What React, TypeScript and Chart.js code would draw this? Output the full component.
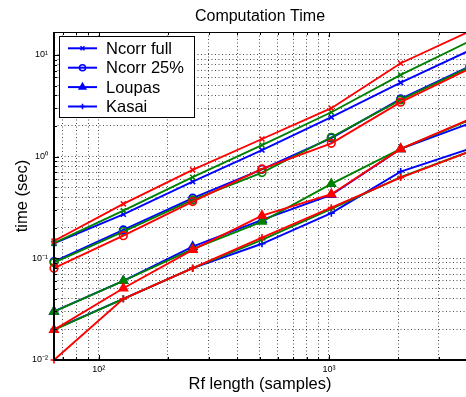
import React, { useEffect, useRef } from "react";
import { Chart, registerables } from "chart.js";
import { drawPoint } from "chart.js/helpers";

Chart.register(...registerables);

// ---- data ----
const rfLength = [64, 128, 256, 512, 1024, 2048, 4096];

const ncorrFullBlue = [0.14, 0.271, 0.568, 1.16, 2.44, 5.34, 11.1];
const ncorrFullGreen = [0.141, 0.294, 0.627, 1.3, 2.73, 6.35, 13.7];
const ncorrFullRed = [0.148, 0.343, 0.74, 1.49, 2.99, 8.28, 17.1];

const ncorr25Blue = [0.093, 0.19, 0.39, 0.75, 1.52, 3.69, 7.76];
const ncorr25Green = [0.0908, 0.183, 0.375, 0.697, 1.55, 3.61, 7.6];
const ncorr25Red = [0.08, 0.167, 0.361, 0.757, 1.35, 3.43, 7.35];

const loupasBlue = [0.03, 0.06, 0.13, 0.239, 0.42, 1.19, 2.13];
const loupasGreen = [0.0299, 0.06, 0.123, 0.23, 0.539, 1.19, 2.3];
const loupasRed = [0.0198, 0.0508, 0.121, 0.263, 0.427, 1.19, 2.34];

const kasaiBlue = [0.02, 0.04, 0.08, 0.139, 0.278, 0.712, 1.2];
const kasaiGreen = [0.0198, 0.04, 0.08, 0.152, 0.306, 0.63, 1.13];
const kasaiRed = [0.01, 0.04, 0.08, 0.16, 0.315, 0.622, 1.12];

const legendLabels = ["Ncorr full", "Ncorr 25%", "Loupas", "Kasai"];

const xTickValues = [70, 80, 90, 100, 200, 300, 400, 500, 600, 700, 800, 900, 1000, 2000, 3000];
const xMajorTicks = [100, 1000];
const xMajorLabels = ["10\u00B2", "10\u00B3"];

const yTickValues = [
  0.01, 0.02, 0.03, 0.04, 0.05, 0.06, 0.07, 0.08, 0.09,
  0.1, 0.2, 0.3, 0.4, 0.5, 0.6, 0.7, 0.8, 0.9,
  1, 2, 3, 4, 5, 6, 7, 8, 9, 10,
];
const yMajorTicks = [0.01, 0.1, 1, 10];
const yMajorLabels = ["10\u207B\u00B2", "10\u207B\u00B9", "10\u2070", "10\u00B9"];

const titleText = "Computation Time";
const xTitle = "Rf length (samples)";
const yTitle = "time (sec)";

// ---- styles ----
const BLUE = "#0000ff";
const GREEN = "#008000";
const RED = "#ff0000";
const FONT = "'Liberation Sans', Arial, Helvetica, sans-serif";

const markerStyles = [
  { pointStyle: "crossRot", radius: 3.5, filled: false },
  { pointStyle: "circle", radius: 3.8, filled: false },
  { pointStyle: "triangle", radius: 4.8, filled: true },
  { pointStyle: "cross", radius: 3.5, filled: false },
];

const findIdx = (arr: number[], v: number) =>
  arr.findIndex((a) => Math.abs(a - v) / a < 1e-6);

function makeDataset(label: string, values: number[], color: string, m: number) {
  const ms = markerStyles[m];
  return {
    label,
    data: rfLength.map((x, i) => ({ x, y: values[i] })),
    borderColor: color,
    backgroundColor: color,
    pointBorderColor: color,
    pointBackgroundColor: ms.filled ? color : "rgba(0,0,0,0)",
    pointStyle: ms.pointStyle,
    pointRadius: ms.radius,
    pointBorderWidth: 1.6,
    borderWidth: 1.9,
    tension: 0,
    clip: false as any,
  };
}

const framePlugin = {
  id: "frame",
  afterDraw(chart: any) {
    const { ctx, chartArea, scales } = chart;
    const { left, right, top, bottom } = chartArea;
    ctx.save();
    // inward tick marks
    ctx.strokeStyle = "#000";
    ctx.lineWidth = 1;
    ctx.beginPath();
    for (const v of yTickValues) {
      const y = Math.round(scales.y.getPixelForValue(v)) + 0.5;
      const len = findIdx(yMajorTicks, v) >= 0 ? 5 : 3;
      ctx.moveTo(left, y);
      ctx.lineTo(left + len, y);
    }
    for (const v of xTickValues) {
      const x = Math.round(scales.x.getPixelForValue(v)) + 0.5;
      const len = findIdx(xMajorTicks, v) >= 0 ? 5 : 3;
      ctx.moveTo(x, bottom);
      ctx.lineTo(x, bottom - len);
      ctx.moveTo(x, top);
      ctx.lineTo(x, top + len);
    }
    ctx.stroke();
    // box
    ctx.lineWidth = 1;
    ctx.beginPath();
    ctx.moveTo(left, top + 0.5);
    ctx.lineTo(right, top + 0.5);
    ctx.stroke();
    ctx.lineWidth = 2;
    ctx.beginPath();
    ctx.moveTo(left, top);
    ctx.lineTo(left, bottom);
    ctx.lineTo(right, bottom);
    ctx.stroke();

    // legend
    const lx = 59.5, ly = 36.5, lw = 135, lh = 81;
    ctx.fillStyle = "#fff";
    ctx.fillRect(lx, ly, lw, lh);
    ctx.strokeStyle = "#000";
    ctx.lineWidth = 1;
    ctx.strokeRect(lx, ly, lw, lh);
    ctx.font = `16.5px ${FONT}`;
    ctx.textBaseline = "middle";
    ctx.textAlign = "left";
    legendLabels.forEach((lab, i) => {
      const y = 48.3 + i * 19.4;
      ctx.strokeStyle = BLUE;
      ctx.lineWidth = 2;
      ctx.beginPath();
      ctx.moveTo(68, y);
      ctx.lineTo(97, y);
      ctx.stroke();
      const ms = markerStyles[i];
      ctx.fillStyle = ms.filled ? BLUE : "rgba(0,0,0,0)";
      ctx.strokeStyle = BLUE;
      ctx.lineWidth = 1.5;
      drawPoint(ctx, { pointStyle: ms.pointStyle as any, radius: ms.radius * 0.8, rotation: 0, borderWidth: 1.5 }, 82.5, y);
      ctx.fillStyle = "#000";
      ctx.fillText(lab, 106, y + 1);
    });
    ctx.restore();
  },
};

export default function App() {
  const canvasRef = useRef<HTMLCanvasElement | null>(null);

  useEffect(() => {
    const canvas = canvasRef.current;
    if (!canvas) return;
    Chart.defaults.font.family = FONT;
    Chart.defaults.color = "#000";

    const datasets = [
      makeDataset("Ncorr full (red)", ncorrFullRed, RED, 0),
      makeDataset("Ncorr 25% (red)", ncorr25Red, RED, 1),
      makeDataset("Loupas (red)", loupasRed, RED, 2),
      makeDataset("Kasai (red)", kasaiRed, RED, 3),
      makeDataset("Ncorr full (green)", ncorrFullGreen, GREEN, 0),
      makeDataset("Ncorr 25% (green)", ncorr25Green, GREEN, 1),
      makeDataset("Loupas (green)", loupasGreen, GREEN, 2),
      makeDataset("Kasai (green)", kasaiGreen, GREEN, 3),
      makeDataset(legendLabels[0], ncorrFullBlue, BLUE, 0),
      makeDataset(legendLabels[1], ncorr25Blue, BLUE, 1),
      makeDataset(legendLabels[2], loupasBlue, BLUE, 2),
      makeDataset(legendLabels[3], kasaiBlue, BLUE, 3),
    ];

    const gridColor = "rgba(0,0,0,0.7)";

    const chart = new Chart(canvas, {
      type: "line",
      data: { datasets: datasets as any },
      plugins: [framePlugin],
      options: {
        responsive: false,
        animation: false,
        devicePixelRatio: 1,
        layout: { padding: 0, autoPadding: false },
        plugins: {
          legend: { display: false },
          tooltip: { enabled: false },
          title: {
            display: true,
            text: titleText,
            fullSize: false,
            color: "#000",
            font: { size: 16, weight: "normal", family: FONT },
            padding: { top: 7.1, bottom: 5.7 },
          },
        },
        scales: {
          x: {
            type: "logarithmic",
            min: 64,
            max: 3936,
            afterBuildTicks: (scale: any) => {
              scale.ticks = xTickValues.map((v) => ({ value: v }));
            },
            afterFit: (scale: any) => {
              scale.height = 37;
              scale.paddingLeft = 0;
              scale.paddingRight = 0;
            },
            ticks: {
              autoSkip: false,
              maxRotation: 0,
              minRotation: 0,
              padding: 4,
              font: { size: 9, family: FONT },
              color: "#000",
              callback: (v: any) => {
                const i = findIdx(xMajorTicks, Number(v));
                return i >= 0 ? xMajorLabels[i] : "";
              },
            },
            grid: { color: gridColor, lineWidth: 1, drawTicks: false },
            border: { display: false, dash: [1, 2.5] },
            title: {
              display: true,
              text: xTitle,
              color: "#000",
              font: { size: 16.5, family: FONT },
              padding: { top: 0, bottom: 2.4 },
            },
          },
          y: {
            type: "logarithmic",
            min: 0.01,
            max: 16.8,
            afterBuildTicks: (scale: any) => {
              scale.ticks = yTickValues.map((v) => ({ value: v }));
            },
            afterFit: (scale: any) => {
              scale.width = 54;
              scale.paddingTop = 0;
              scale.paddingBottom = 0;
            },
            ticks: {
              autoSkip: false,
              padding: 6,
              font: { size: 9, family: FONT },
              color: "#000",
              callback: (v: any) => {
                const i = findIdx(yMajorTicks, Number(v));
                return i >= 0 ? yMajorLabels[i] : "";
              },
            },
            grid: { color: gridColor, lineWidth: 1, drawTicks: false },
            border: { display: false, dash: [1, 2.5] },
            title: {
              display: true,
              text: yTitle,
              color: "#000",
              font: { size: 16.5, family: FONT },
              padding: { top: 12.4, bottom: 0 },
            },
          },
        },
      } as any,
    });
    return () => chart.destroy();
  }, []);

  return (
    <div style={{ position: "absolute", left: 0, top: 0, width: 466, height: 397, background: "#fff" }}>
      <canvas ref={canvasRef} width={466} height={397} style={{ width: 466, height: 397, display: "block" }} />
    </div>
  );
}
